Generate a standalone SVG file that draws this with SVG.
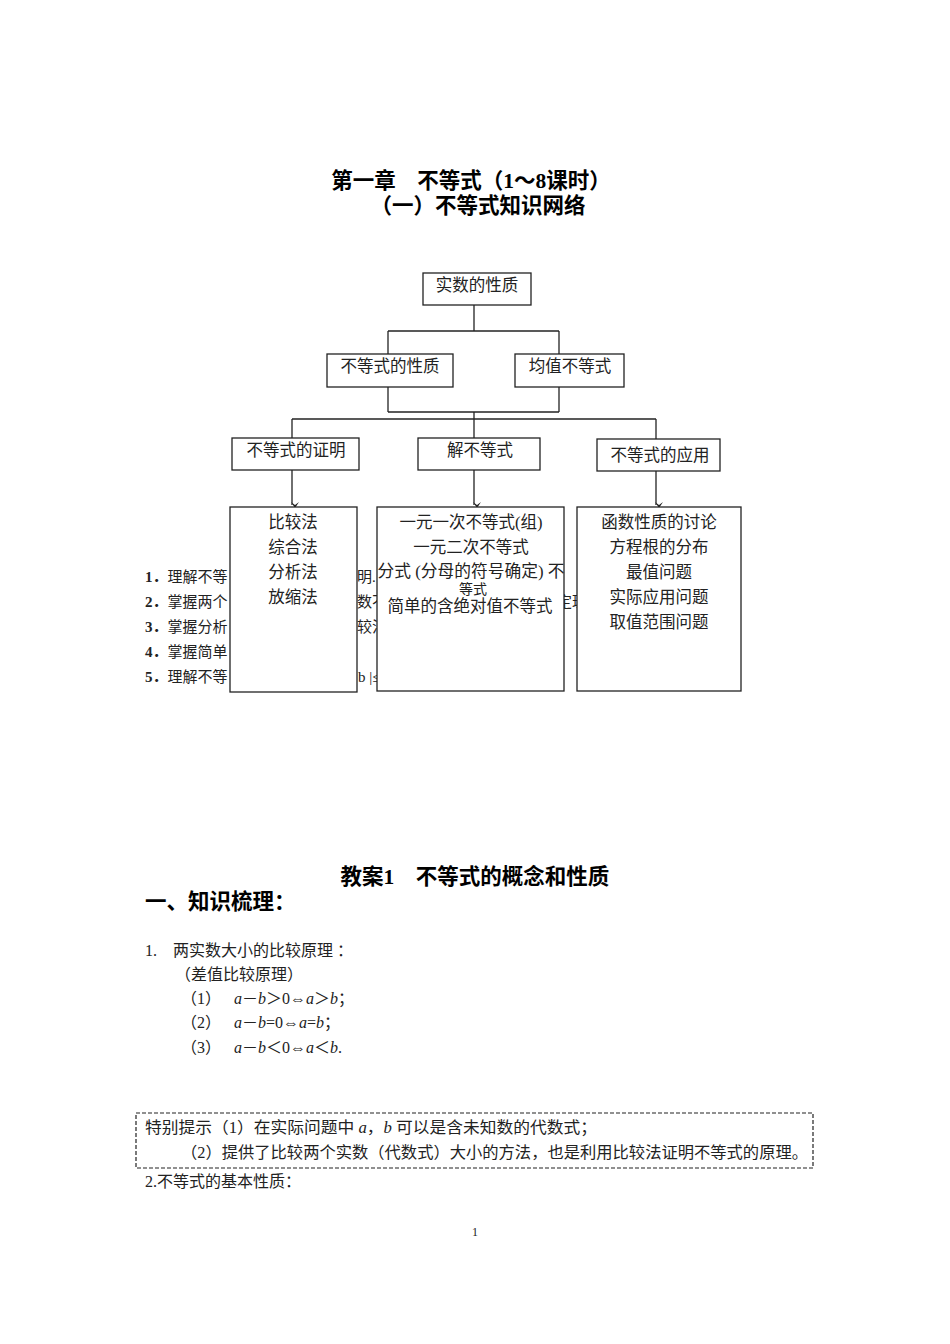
<svg xmlns="http://www.w3.org/2000/svg" width="950" height="1344" viewBox="0 0 950 1344">
<defs>
<style>
.t{font-family:"Liberation Serif","Noto Sans CJK SC",serif;font-size:15px;fill:#222}
.n{font-size:16.5px}
.m{font-size:16px}
.c{text-anchor:middle}
.h{font-family:"Liberation Serif","Noto Sans CJK SC",serif;font-size:21.5px;font-weight:bold;fill:#000}
.b{font-weight:bold}
.i{font-style:italic}
.box{fill:#fff;stroke:#222;stroke-width:1.3}
.ln{stroke:#222;stroke-width:1.3;fill:none}
</style>
<marker id="ah" viewBox="0 0 10 8" refX="5" refY="7" markerWidth="10" markerHeight="8" markerUnits="userSpaceOnUse" orient="auto-start-reverse">
<path d="M1,1 L5,7 L9,1 L5,4 z" fill="#222" transform="rotate(-90 5 4)"/>
</marker>
</defs>
<rect width="950" height="1344" fill="#fff"/>

<g id="title">
<text class="h c" x="471" y="188">第一章　不等式（1～8课时）</text>
<text class="h c" x="478" y="213">（一）不等式知识网络</text>
</g>

<g id="objectives">
<text class="t" x="145" y="582"><tspan class="b">1．</tspan>理解不等</text>
<text class="t" x="357" y="582">明.</text>
<text class="t" x="145" y="607"><tspan class="b">2．</tspan>掌握两个</text>
<text class="t" x="357" y="607">数不</text>
<text class="t" x="557" y="607">定理</text>
<text class="t" x="145" y="632"><tspan class="b">3．</tspan>掌握分析</text>
<text class="t" x="357" y="632">较法</text>
<text class="t" x="145" y="657"><tspan class="b">4．</tspan>掌握简单</text>
<text class="t" x="145" y="682"><tspan class="b">5．</tspan>理解不等</text>
<text class="t" x="358" y="682">b |≤</text>
</g>

<g id="connectors">
<line class="ln" x1="474" y1="305" x2="474" y2="331"/>
<line class="ln" x1="388" y1="331" x2="559" y2="331"/>
<line class="ln" x1="388" y1="331" x2="388" y2="354"/>
<line class="ln" x1="559" y1="331" x2="559" y2="354"/>
<line class="ln" x1="388" y1="387" x2="388" y2="412"/>
<line class="ln" x1="559" y1="387" x2="559" y2="412"/>
<line class="ln" x1="388" y1="412" x2="559" y2="412"/>
<line class="ln" x1="474" y1="412" x2="474" y2="438"/>
<line class="ln" x1="292" y1="419" x2="656" y2="419"/>
<line class="ln" x1="292" y1="419" x2="292" y2="438"/>
<line class="ln" x1="656" y1="419" x2="656" y2="439"/>
<line class="ln" x1="292" y1="470" x2="292" y2="505" marker-end="url(#ah)"/>
<line class="ln" x1="474" y1="470" x2="474" y2="505" marker-end="url(#ah)"/>
<line class="ln" x1="656" y1="471" x2="656" y2="505" marker-end="url(#ah)"/>
</g>

<g id="node-real">
<rect class="box" x="423" y="273" width="108" height="32"/>
<text class="t n c" x="477" y="291">实数的性质</text>
</g>
<g id="node-prop">
<rect class="box" x="327" y="354" width="126" height="33"/>
<text class="t n c" x="390" y="372">不等式的性质</text>
</g>
<g id="node-mean">
<rect class="box" x="515" y="354" width="109" height="33"/>
<text class="t n c" x="570" y="372">均值不等式</text>
</g>
<g id="node-proof">
<rect class="box" x="232" y="438" width="127" height="32"/>
<text class="t n c" x="296" y="456">不等式的证明</text>
</g>
<g id="node-solve">
<rect class="box" x="418" y="438" width="122" height="32"/>
<text class="t n c" x="480" y="456">解不等式</text>
</g>
<g id="node-apply">
<rect class="box" x="597" y="439" width="123" height="32"/>
<text class="t n c" x="660" y="461">不等式的应用</text>
</g>

<g id="node-methods">
<rect class="box" x="230" y="507" width="127" height="185"/>
<text class="t n c" x="293" y="528">比较法</text>
<text class="t n c" x="293" y="553">综合法</text>
<text class="t n c" x="293" y="578">分析法</text>
<text class="t n c" x="293" y="603">放缩法</text>
</g>
<g id="node-types">
<rect class="box" x="377" y="507" width="187" height="184"/>
<text class="t n c" x="471" y="528">一元一次不等式(组)</text>
<text class="t n c" x="471" y="553">一元二次不等式</text>
<text class="t n c" x="471" y="577" textLength="187" lengthAdjust="spacingAndGlyphs">分式 (分母的符号确定) 不</text>
<text class="t c" x="473" y="594" style="font-size:14px">等式</text>
<text class="t n c" x="470" y="612">简单的含绝对值不等式</text>
</g>
<g id="node-uses">
<rect class="box" x="577" y="507" width="164" height="184"/>
<text class="t n c" x="659" y="528">函数性质的讨论</text>
<text class="t n c" x="659" y="553">方程根的分布</text>
<text class="t n c" x="659" y="578">最值问题</text>
<text class="t n c" x="659" y="603">实际应用问题</text>
<text class="t n c" x="659" y="628">取值范围问题</text>
</g>

<g id="lesson">
<text class="h c" x="475" y="884">教案1　不等式的概念和性质</text>
<text class="h" x="145" y="909">一、知识梳理：</text>
<text class="t m" x="145" y="956">1.</text>
<text class="t m" x="173" y="956">两实数大小的比较原理 ：</text>
<text class="t m" x="175" y="980">（差值比较原理）</text>
<text class="t m" x="181" y="1004">（1）</text>
<text class="t m" x="234" y="1004"><tspan class="i">a</tspan>－<tspan class="i">b</tspan>＞0⇔<tspan class="i">a</tspan>＞<tspan class="i">b</tspan>；</text>
<text class="t m" x="181" y="1028">（2）</text>
<text class="t m" x="234" y="1028"><tspan class="i">a</tspan>－<tspan class="i">b</tspan>=0⇔<tspan class="i">a</tspan>=<tspan class="i">b</tspan>；</text>
<text class="t m" x="181" y="1053">（3）</text>
<text class="t m" x="234" y="1053"><tspan class="i">a</tspan>－<tspan class="i">b</tspan>＜0⇔<tspan class="i">a</tspan>＜<tspan class="i">b</tspan>.</text>
</g>

<g id="tip">
<rect x="136" y="1113" width="677" height="55" fill="none" stroke="#222" stroke-width="1.2" stroke-dasharray="4,2"/>
<text class="t m" x="145" y="1133" textLength="452" lengthAdjust="spacingAndGlyphs">特别提示（1）在实际问题中 <tspan class="i">a</tspan>，<tspan class="i">b</tspan> 可以是含未知数的代数式；</text>
<text class="t m" x="181" y="1158" textLength="627" lengthAdjust="spacingAndGlyphs">（2）提供了比较两个实数（代数式）大小的方法，也是利用比较法证明不等式的原理。</text>
</g>

<g id="footer">
<text class="t m" x="145" y="1187">2.不等式的基本性质：</text>
<text class="t c" x="475" y="1236" style="font-size:12px">1</text>
</g>
</svg>
